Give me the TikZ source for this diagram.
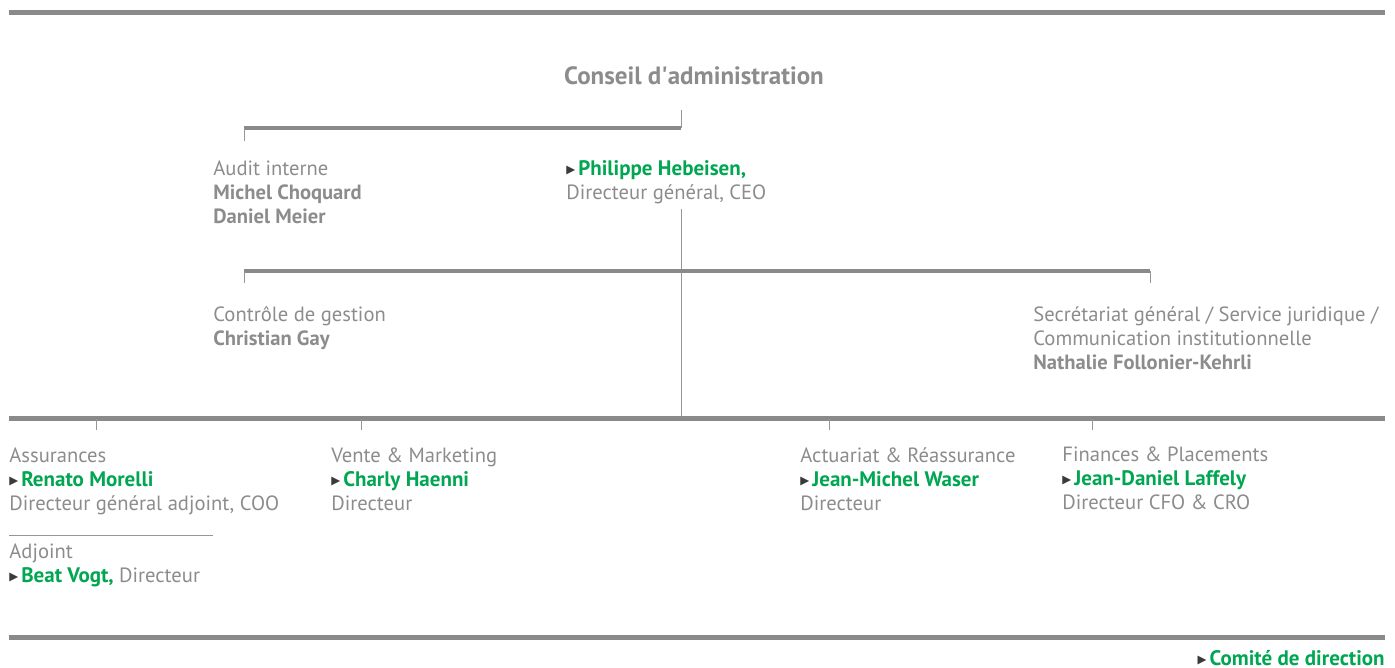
\documentclass[tikz,border=0pt]{standalone}
\usepackage{fontspec}
\setmainfont{PT Sans}
\newfontfamily\symfont{DejaVu Sans}
\usetikzlibrary{positioning}
\definecolor{txtgray}{HTML}{8C8C8C}
\definecolor{bargray}{HTML}{8A8A8A}
\definecolor{mkgreen}{HTML}{00A651}
\definecolor{mkdark}{HTML}{3A3A3A}
\newcommand{\mk}{\raisebox{0.6pt}{\symfont\fontsize{5.8}{5.8}\selectfont\textcolor{mkdark}{▶}}\hspace{1.5pt}}
\newcommand{\nm}[1]{{\fontsize{10.5}{12}\selectfont\textbf{\textcolor{mkgreen}{#1}}}}

\begin{document}
\begin{tikzpicture}[x=0.5pt, y=-0.5pt, font=\fontsize{10.3}{12}\selectfont,
    every node/.style={text=txtgray, inner sep=0pt, anchor=base west, align=left},
    heavy/.style={draw=bargray, line width=2.5pt},
    bar/.style={draw=bargray, line width=2pt},
    tick/.style={draw=bargray!90, line width=0.5pt}]
    \useasboundingbox (0,0) rectangle (1395,668);
    % (multi-line nodes sit on the baseline of their last line)

    % --- FRAME ---
    \coordinate (topL) at (9,13);
    \coordinate (topR) at (1385,13);
    \coordinate (botL) at (9,637);
    \coordinate (botR) at (1385,637);
    \draw[heavy] (topL) -- (topR);
    \draw[heavy] (botL) -- (botR);

    % --- BOARD AND CEO ---
    \node (board) [anchor=base, font=\fontsize{12.5}{14}\selectfont\bfseries] at (694,85) {Conseil d\textquotesingle administration};
    \node (ceo) at (566,199) {\mk\nm{Philippe Hebeisen,}\\Directeur général, CEO};
    \node (audit) at (213,223) {Audit interne\\\textbf{Michel Choquard}\\\textbf{Daniel Meier}};

    \coordinate (ceoTop) at (681,110);
    \coordinate (ceoBar) at (681,128);
    \coordinate (ceoLow) at (681,209);
    \coordinate (ceoBot) at (681,416);
    \coordinate (auditBar) at (244,128);
    \coordinate (auditTick) at (244,141);
    \draw[tick] (ceoTop) -- (ceoBar);
    \draw[bar] (auditBar) -- (ceoBar);
    \draw[tick] (auditBar) -- (auditTick);
    \draw[tick] (ceoLow) -- (ceoBot);

    % --- STAFF ---
    \node (ctrl) at (213,345) {Contrôle de gestion\\\textbf{Christian Gay}};
    \node (secr) at (1033,369) {Secrétariat général / Service juridique /\\Communication institutionnelle\\\textbf{Nathalie Follonier-Kehrli}};

    \coordinate (staffL) at (244,271);
    \coordinate (staffR) at (1150,271);
    \coordinate (ctrlTick) at (244,283);
    \coordinate (secrTick) at (1150,283);
    \draw[bar] (staffL) -- (staffR);
    \draw[tick] (staffL) -- (ctrlTick);
    \draw[tick] (staffR) -- (secrTick);

    % --- DIRECTION ---
    \coordinate (dirL) at (9,418);
    \coordinate (dirR) at (1385,418);
    \draw[heavy] (dirL) -- (dirR);

    \node (assur) at (9,510) {Assurances\\\mk\nm{Renato Morelli}\\Directeur général adjoint, COO};
    \node (vente) at (331,510) {Vente \& Marketing\\\mk\nm{Charly Haenni}\\Directeur};
    \node (actu) at (800,510) {Actuariat \& Réassurance\\\mk\nm{Jean-Michel Waser}\\Directeur};
    \node (fin) at (1062,509) {Finances \& Placements\\\mk\nm{Jean-Daniel Laffely}\\Directeur CFO \& CRO};
    \node (adj) at (9,582) {Adjoint\\\mk\nm{Beat Vogt,} Directeur};

    \coordinate (assurTop) at (96,419);
    \coordinate (assurTick) at (96,430);
    \coordinate (venteTop) at (361,419);
    \coordinate (venteTick) at (361,430);
    \coordinate (actuTop) at (829,419);
    \coordinate (actuTick) at (829,430);
    \coordinate (finTop) at (1092,419);
    \coordinate (finTick) at (1092,430);
    \draw[tick] (assurTop) -- (assurTick);
    \draw[tick] (venteTop) -- (venteTick);
    \draw[tick] (actuTop) -- (actuTick);
    \draw[tick] (finTop) -- (finTick);

    \coordinate (adjL) at (9,535);
    \coordinate (adjR) at (213,535);
    \draw[tick] (adjL) -- (adjR);

    % Label
    \node (comite) [anchor=base east] at (1385,665) {\mk\nm{Comité de direction}};

\end{tikzpicture}
\end{document}
